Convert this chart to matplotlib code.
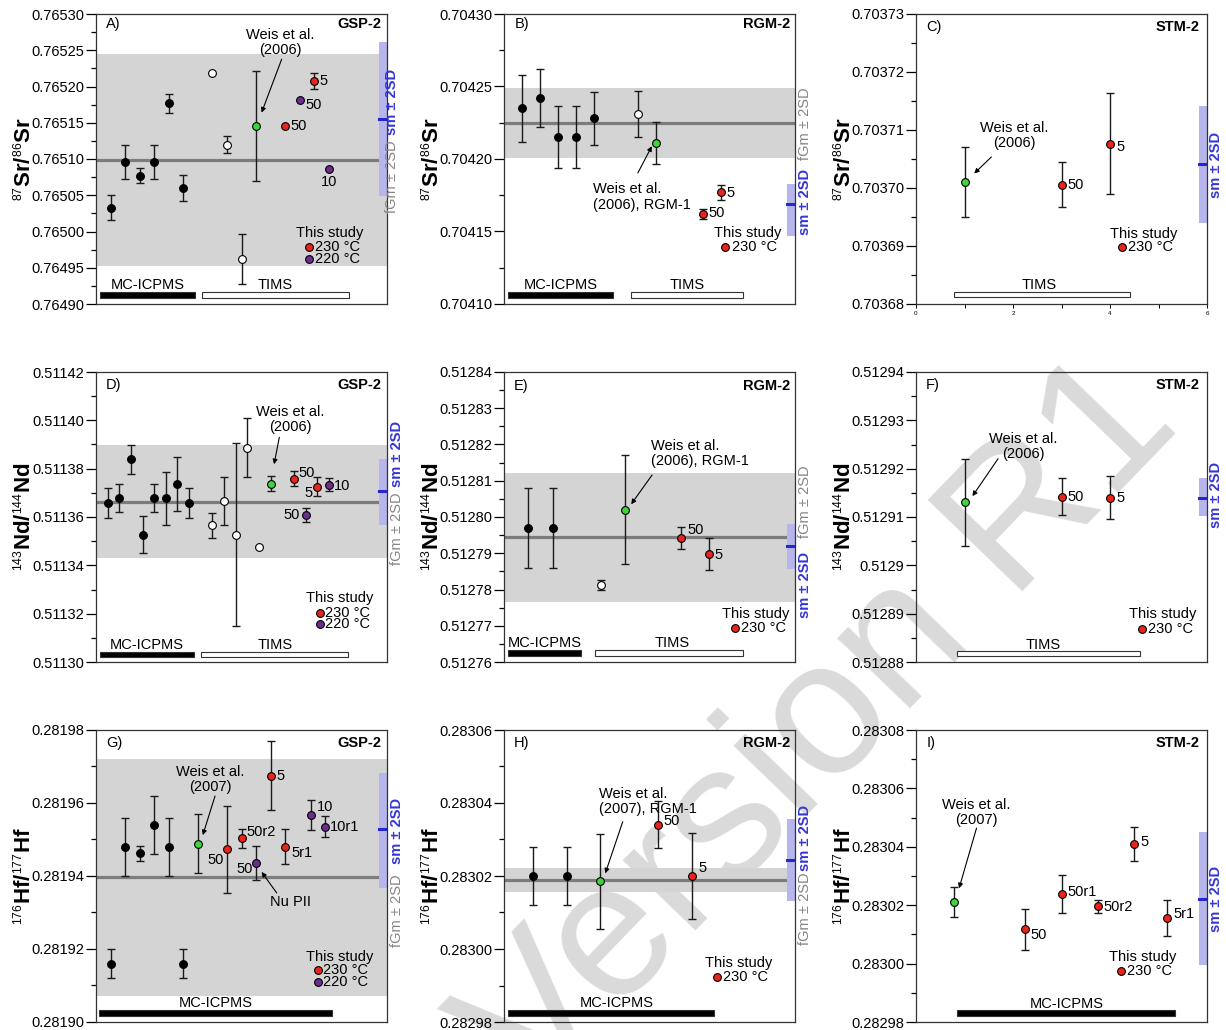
import numpy as np
import matplotlib
matplotlib.use('Agg')
import matplotlib.pyplot as plt
import matplotlib._mathtext as mathtext_mod
from matplotlib.patches import Rectangle
from matplotlib.ticker import MultipleLocator, AutoMinorLocator, FuncFormatter

plt.rcParams['font.family'] = ['Liberation Sans', 'DejaVu Sans']
plt.rcParams['mathtext.fontset'] = 'custom'
plt.rcParams['mathtext.rm'] = 'Liberation Sans'
plt.rcParams['mathtext.it'] = 'Liberation Sans:italic'
plt.rcParams['mathtext.bf'] = 'Liberation Sans:bold'
# smaller isotope superscripts in the axis labels
mathtext_mod.SHRINK_FACTOR = 0.55

# ---------------- data ----------------
# kind: mc = MC-ICPMS literature, tims = TIMS literature, weis = Weis et al.,
#       r230 = this study 230 C, p220 = this study 220 C
# fgm / sm = [mean, low, high]

# A) 87Sr/86Sr  GSP-2
a_x = [1, 2, 3, 4, 5, 6, 8, 9, 10, 11, 13, 14, 15, 16]
a_y = [0.765033, 0.765096, 0.765077, 0.765096, 0.765177, 0.765060,
       0.765218, 0.765120, 0.764962, 0.765145, 0.765145, 0.765182, 0.765207, 0.765086]
a_err = [0.0000175, 0.000024, 0.00001, 0.000024, 0.000013, 0.0000185,
         0.0, 0.000012, 0.0000345, 0.000076, 0.0, 0.0, 0.000011, 0.0]
a_kind = ['mc'] * 6 + ['tims'] * 3 + ['weis', 'r230', 'p220', 'r230', 'p220']
a_tag = [''] * 10 + ['50', '50', '5', '10']
a_fgm = [0.765098, 0.764953, 0.765245]
a_sm = [0.765155, 0.765049, 0.765261]

# B) 87Sr/86Sr  RGM-2
b_x = [1, 2, 3, 4, 5, 7.4, 8.4, 11, 12]
b_y = [0.704235, 0.704242, 0.704215, 0.704215, 0.704228, 0.704231, 0.704211, 0.704162, 0.704177]
b_err = [0.000023, 0.00002, 0.0000213, 0.0000213, 0.000018, 0.000016, 0.0000145, 0.0000037, 0.0000053]
b_kind = ['mc'] * 5 + ['tims', 'weis', 'r230', 'r230']
b_tag = [''] * 7 + ['50', '5']
b_fgm = [0.704225, 0.704201, 0.704249]
b_sm = [0.704169, 0.704147, 0.704183]

# C) 87Sr/86Sr  STM-2
c_x = [1, 3, 4]
c_y = [0.703701, 0.7037006, 0.7037076]
c_err = [0.000006, 0.0000039, 0.0000087]
c_kind = ['weis', 'r230', 'r230']
c_tag = ['', '50', '5']
c_sm = [0.7037041, 0.703694, 0.7037142]

# D) 143Nd/144Nd  GSP-2
d_x = [1, 2, 3, 4, 5, 6, 7, 8, 10, 11, 12, 13, 14, 15, 17, 18, 19, 20]
d_y = [0.5113657, 0.5113677, 0.5113839, 0.5113527, 0.5113677, 0.5113677, 0.5113737, 0.5113657,
       0.5113566, 0.5113666, 0.5113527, 0.5113887, 0.5113476,
       0.5113738, 0.5113759, 0.5113607, 0.5113726, 0.5113734]
d_err = [0.0000061, 0.0000058, 0.0000059, 0.0000078, 0.0000058, 0.000011, 0.0000112, 0.0000061,
         0.0000052, 0.00001, 0.000038, 0.0000122, 0.0,
         0.000003, 0.000003, 0.0000029, 0.0000041, 0.0000028]
d_kind = ['mc'] * 8 + ['tims'] * 5 + ['weis', 'r230', 'p220', 'r230', 'p220']
d_tag = [''] * 14 + ['50', '50', '5', '10']
d_fgm = [0.5113662, 0.5113432, 0.5113897]
d_sm = [0.5113706, 0.5113568, 0.5113841]

# E) 143Nd/144Nd  RGM-2
e_x = [1, 2, 4, 5, 7.3, 8.45]
e_y = [0.5127969, 0.5127969, 0.5127813, 0.5128020, 0.5127942, 0.5127898]
e_err = [0.000011, 0.000011, 0.0000013, 0.000015, 0.0000031, 0.0000044]
e_kind = ['mc', 'mc', 'tims', 'weis', 'r230', 'r230']
e_tag = ['', '', '', '', '50', '5']
e_fgm = [0.5127944, 0.5127766, 0.5128120]
e_sm = [0.5127919, 0.5127857, 0.5127980]

# F) 143Nd/144Nd  STM-2
f_x = [1, 3, 4]
f_y = [0.5129131, 0.5129142, 0.5129140]
f_err = [0.000009, 0.0000038, 0.0000044]
f_kind = ['weis', 'r230', 'r230']
f_tag = ['', '50', '5']
f_sm = [0.5129140, 0.5129102, 0.5129180]

# G) 176Hf/177Hf  GSP-2
g_x = [1, 2, 3, 4, 5, 6, 7, 9, 10, 11, 12, 13, 14.75, 15.75]
g_y = [0.2819160, 0.2819480, 0.2819462, 0.2819539, 0.2819480, 0.2819160,
       0.2819489, 0.2819473, 0.2819503, 0.2819436, 0.2819675, 0.2819480, 0.2819567, 0.2819535]
g_err = [0.0000039, 0.000008, 0.000002, 0.000008, 0.000008, 0.0000039,
         0.000008, 0.0000119, 0.0000027, 0.0000047, 0.0000095, 0.0000048, 0.0000041, 0.0000029]
g_kind = ['mc'] * 6 + ['weis', 'r230', 'r230', 'p220', 'r230', 'r230', 'p220', 'p220']
g_tag = [''] * 7 + ['50', '50r2', '50', '5', '5r1', '10', '10r1']
g_fgm = [0.2819398, 0.2819070, 0.2819720]
g_sm = [0.2819528, 0.2819368, 0.2819681]

# H) 176Hf/177Hf  RGM-2
h_x = [1.01, 2.17, 3.3, 5.28, 6.46]
h_y = [0.2830200, 0.2830200, 0.2830185, 0.2830341, 0.2830201]
h_err = [0.000008, 0.000008, 0.000013, 0.0000065, 0.0000118]
h_kind = ['mc', 'mc', 'weis', 'r230', 'r230']
h_tag = ['', '', '', '50', '5']
h_fgm = [0.2830189, 0.2830155, 0.2830223]
h_sm = [0.2830243, 0.2830131, 0.2830355]

# I) 176Hf/177Hf  STM-2
i_x = [1.05, 3, 4, 5, 6, 6.9]
i_y = [0.2830211, 0.2830117, 0.2830238, 0.2830197, 0.2830411, 0.2830157]
i_err = [0.000005, 0.000007, 0.0000066, 0.0000022, 0.0000058, 0.0000062]
i_kind = ['weis', 'r230', 'r230', 'r230', 'r230', 'r230']
i_tag = ['', '50', '50r1', '50r2', '5', '5r1']
i_sm = [0.2830222, 0.2829995, 0.2830449]

sr_label = r'$^{87}$Sr/$^{86}$Sr'
nd_label = r'$^{143}$Nd/$^{144}$Nd'
hf_label = r'$^{176}$Hf/$^{177}$Hf'

# ---------------- styles ----------------
FACE = {'mc': 'black', 'tims': 'white', 'weis': '#3dd43d', 'r230': '#e8251c', 'p220': '#6b2d8e'}
BAND = '#d4d4d4'
MEANLINE = '#7c7c7c'
SMBAND = '#b6b6ec'
SMMEAN = '#2727d0'
SMTEXT = '#3535d6'
FGMTEXT = '#858585'
FS = 10.5

# axes placement (pixels of a 1226 x 1030 figure)
W, H = 1226.0, 1030.0
col_left = [96, 504, 916]
col_w = 291
row_top = [14, 372, 730]
row_h = [290, 290, 292]


def draw_panel(ax, x, y, err, kind, tag, fgm, sm, lay):
    ax.set_facecolor('none')
    ax.set_xlim(lay['xlim'])
    ax.set_ylim(lay['ylim'])

    # grey fGm band and blue sm band
    if fgm is not None:
        ax.axhspan(fgm[1], fgm[2], color=BAND, lw=0, zorder=0)
        ax.axhline(fgm[0], color=MEANLINE, lw=2.3, zorder=1)
    ax.axhspan(sm[1], sm[2], xmin=0.972, xmax=1.0, color=SMBAND, lw=0, zorder=1.5)
    ax.axhline(sm[0], xmin=0.972, xmax=1.0, color=SMMEAN, lw=2.2, zorder=1.6)

    # points with error bars
    for xi, yi, ei, ki in zip(x, y, err, kind):
        if ei > 0:
            ax.errorbar(xi, yi, yerr=ei, fmt='none', ecolor='#1a1a1a', elinewidth=1.0,
                        capsize=2.6, capthick=1.0, zorder=3)
        ax.plot(xi, yi, 'o', mfc=FACE[ki], mec='black', mew=0.8, ms=5.6, zorder=4)

    # point tags
    offs = iter(lay['tags'])
    for xi, yi, t in zip(x, y, tag):
        if t:
            dx, dy, ha = next(offs)
            ax.annotate(t, (xi, yi), xytext=(dx, dy), textcoords='offset points',
                        ha=ha, va='center', fontsize=FS, zorder=5)

    # panel letter and sample name
    ax.text(lay['corner'][0], lay['corner'][1], lay['letter'], transform=ax.transAxes,
            ha='left', va='center', fontsize=FS)
    ax.text(lay['name_x'], lay['corner'][1], lay['name'], transform=ax.transAxes,
            ha='right', va='center', fontsize=FS, fontweight='bold')

    # literature annotations
    for txt, tx, ty, ha, start, tip in lay['notes']:
        ax.text(tx, ty, txt, transform=ax.transAxes, ha=ha, va='center',
                multialignment='center' if ha == 'center' else 'left',
                fontsize=FS, linespacing=1.1)
        ax.annotate('', xy=tip, xycoords='axes fraction', xytext=start,
                    textcoords='axes fraction',
                    arrowprops=dict(arrowstyle='-|>', lw=0.8, color='black',
                                    mutation_scale=7, shrinkA=0, shrinkB=0))

    # "This study" legend
    sx, sy = lay['study']
    ax.text(sx, sy, 'This study', transform=ax.transAxes, ha='center', va='center', fontsize=FS)
    for k, mx, my, lx, lab in lay['legend']:
        ax.plot(mx, my, 'o', transform=ax.transAxes, mfc=FACE[k], mec='black', mew=0.8,
                ms=5.6, clip_on=False, zorder=4)
        ax.text(lx, my, lab, transform=ax.transAxes, ha='left', va='center', fontsize=FS)

    # method bars
    for lab, x0, x1, yb, tx, ty, filled in lay['bars']:
        ax.add_patch(Rectangle((x0, yb - 0.009), x1 - x0, 0.018, transform=ax.transAxes,
                               facecolor='black' if filled else 'white',
                               edgecolor='#333333', lw=0.8, zorder=5))
        ax.text(tx, ty, lab, transform=ax.transAxes, ha='center', va='center', fontsize=FS)

    # vertical band labels on the right
    if lay.get('fgm_lab'):
        ax.text(lay['fgm_lab'][0], lay['fgm_lab'][1], 'fGm \u00b1 2SD', transform=ax.transAxes,
                rotation=90, ha='center', va='center', fontsize=FS, color=FGMTEXT, clip_on=False)
    ax.text(lay['sm_lab'][0], lay['sm_lab'][1], 'sm \u00b1 2SD', transform=ax.transAxes,
            rotation=90, ha='center', va='center', fontsize=FS, color=SMTEXT,
            fontweight='bold', clip_on=False)

    # axes cosmetics
    ax.yaxis.set_major_locator(MultipleLocator(lay['step']))
    ax.yaxis.set_minor_locator(AutoMinorLocator(2))
    fmt = lay.get('fmt', '{:.5f}')
    ax.yaxis.set_major_formatter(FuncFormatter(lambda v, p: fmt.format(v)))
    ax.tick_params(axis='y', which='major', length=7, width=0.9, labelsize=FS, pad=1.5)
    ax.tick_params(axis='y', which='minor', length=3.5, width=0.9)
    if lay.get('xticks'):
        ax.xaxis.set_major_locator(MultipleLocator(2))
        ax.xaxis.set_minor_locator(MultipleLocator(1))
        ax.tick_params(axis='x', which='both', length=3, width=0.7, labelsize=4.5, pad=2)
    else:
        ax.tick_params(axis='x', which='both', bottom=False, labelbottom=False)
    for s in ax.spines.values():
        s.set_linewidth(0.9)
        s.set_color('#333333')
    ax.set_ylabel(lay['ylabel'], fontsize=16, fontweight='bold')
    ax.yaxis.set_label_coords(-0.205, 0.5)


LAYOUT = {
    'A': dict(xlim=(0, 20), ylim=(0.76490, 0.76530), step=0.00005, ylabel=sr_label,
              letter='A)', name='GSP-2', corner=(0.034, 0.965), name_x=0.979,
              tags=[(3.6, 0, 'left'), (4, -3.6, 'left'), (4, 0, 'left'), (0, -9, 'center')],
              notes=[('Weis et al.\n(2006)', 0.632, 0.902, 'center', (0.638, 0.844), (0.569, 0.660))],
              study=(0.804, 0.244),
              legend=[('r230', 0.733, 0.196, 0.753, '230 \u00b0C'), ('p220', 0.733, 0.154, 0.753, '220 \u00b0C')],
              bars=[('MC-ICPMS', 0.014, 0.340, 0.031, 0.178, 0.064, True),
                    ('TIMS', 0.363, 0.871, 0.031, 0.617, 0.064, False)],
              fgm_lab=(1.017, 0.438), sm_lab=(1.017, 0.697)),
    'B': dict(xlim=(0, 16.1), ylim=(0.70410, 0.70430), step=0.00005, ylabel=sr_label,
              letter='B)', name='RGM-2', corner=(0.038, 0.965), name_x=0.985,
              tags=[(4.3, 0.7, 'left'), (4.3, -0.7, 'left')],
              notes=[('Weis et al.\n(2006), RGM-1', 0.306, 0.369, 'left', (0.460, 0.452), (0.508, 0.544))],
              study=(0.837, 0.244),
              legend=[('r230', 0.761, 0.197, 0.785, '230 \u00b0C')],
              bars=[('MC-ICPMS', 0.015, 0.374, 0.031, 0.194, 0.064, True),
                    ('TIMS', 0.437, 0.823, 0.031, 0.630, 0.064, False)],
              fgm_lab=(1.034, 0.621), sm_lab=(1.034, 0.352)),
    'C': dict(xlim=(0, 6), ylim=(0.70368, 0.70373), step=0.00001, ylabel=sr_label,
              letter='C)', name='STM-2', corner=(0.034, 0.956), name_x=0.974,
              tags=[(4.3, 0, 'left'), (4.3, -2, 'left')],
              notes=[('Weis et al.\n(2006)', 0.339, 0.581, 'center', (0.259, 0.507), (0.200, 0.450))],
              study=(0.782, 0.243),
              legend=[('r230', 0.709, 0.195, 0.730, '230 \u00b0C')],
              bars=[('TIMS', 0.131, 0.734, 0.034, 0.422, 0.064, False)],
              fgm_lab=None, sm_lab=(1.031, 0.478), xticks=True),
    'D': dict(xlim=(0, 25), ylim=(0.51130, 0.51142), step=0.00002, ylabel=nd_label,
              letter='D)', name='GSP-2', corner=(0.034, 0.954), name_x=0.979,
              tags=[(3, 4.3, 'left'), (-4.3, 0, 'right'), (-3.4, -5, 'right'), (3.4, -0.7, 'left')],
              notes=[('Weis et al.\n(2006)', 0.667, 0.836, 'center', (0.630, 0.775), (0.612, 0.682))],
              study=(0.838, 0.222),
              legend=[('r230', 0.770, 0.170, 0.787, '230 \u00b0C'), ('p220', 0.770, 0.132, 0.787, '220 \u00b0C')],
              bars=[('MC-ICPMS', 0.014, 0.337, 0.025, 0.175, 0.060, True),
                    ('TIMS', 0.361, 0.867, 0.025, 0.615, 0.060, False)],
              fgm_lab=(1.034, 0.460), sm_lab=(1.034, 0.718)),
    'E': dict(xlim=(0, 12), ylim=(0.51276, 0.51284), step=0.00001, ylabel=nd_label,
              letter='E)', name='RGM-2', corner=(0.032, 0.952), name_x=0.985,
              tags=[(4.3, 5.8, 'left'), (4.3, -0.7, 'left')],
              notes=[('Weis et al.\n(2006), RGM-1', 0.506, 0.719, 'left', (0.509, 0.645), (0.437, 0.544))],
              study=(0.866, 0.166),
              legend=[('r230', 0.793, 0.118, 0.814, '230 \u00b0C')],
              bars=[('MC-ICPMS', 0.015, 0.266, 0.031, 0.140, 0.064, True),
                    ('TIMS', 0.314, 0.820, 0.031, 0.578, 0.064, False)],
              fgm_lab=(1.034, 0.553), sm_lab=(1.034, 0.265)),
    'F': dict(xlim=(0, 6), ylim=(0.51288, 0.51294), step=0.00001, ylabel=nd_label, fmt='{:g}',
              letter='F)', name='STM-2', corner=(0.034, 0.954), name_x=0.974,
              tags=[(4.3, 0, 'left'), (4.3, 0, 'left')],
              notes=[('Weis et al.\n(2006)', 0.370, 0.744, 'center', (0.282, 0.701), (0.194, 0.572))],
              study=(0.849, 0.164),
              legend=[('r230', 0.778, 0.113, 0.797, '230 \u00b0C')],
              bars=[('TIMS', 0.142, 0.771, 0.029, 0.436, 0.060, False)],
              fgm_lab=None, sm_lab=(1.031, 0.577)),
    'G': dict(xlim=(0, 20), ylim=(0.28190, 0.28198), step=0.00002, ylabel=hf_label,
              letter='G)', name='GSP-2', corner=(0.034, 0.954), name_x=0.979,
              tags=[(-2.2, -8, 'right'), (3.6, 4.3, 'left'), (-2.2, -4.3, 'right'), (4.3, 0, 'left'),
                    (4.3, -4.3, 'left'), (4.3, 5.8, 'left'), (3.6, 0, 'left')],
              notes=[('Weis et al.\n(2007)', 0.392, 0.829, 'center', (0.409, 0.774), (0.367, 0.640)),
                     ('Nu PII', 0.667, 0.411, 'center', (0.621, 0.442), (0.569, 0.514))],
              study=(0.838, 0.223),
              legend=[('r230', 0.764, 0.178, 0.781, '230 \u00b0C'), ('p220', 0.764, 0.138, 0.781, '220 \u00b0C')],
              bars=[('MC-ICPMS', 0.011, 0.812, 0.031, 0.412, 0.064, True)],
              fgm_lab=(1.034, 0.381), sm_lab=(1.034, 0.655)),
    'H': dict(xlim=(0, 10), ylim=(0.28298, 0.28306), step=0.00002, ylabel=hf_label,
              letter='H)', name='RGM-2', corner=(0.032, 0.954), name_x=0.985,
              tags=[(4.3, 2.2, 'left'), (5, 5.8, 'left')],
              notes=[('Weis et al.\n(2007), RGM-1', 0.328, 0.754, 'left', (0.408, 0.686), (0.348, 0.509))],
              study=(0.808, 0.203),
              legend=[('r230', 0.733, 0.155, 0.753, '230 \u00b0C')],
              bars=[('MC-ICPMS', 0.015, 0.722, 0.031, 0.389, 0.064, True)],
              fgm_lab=(1.034, 0.387), sm_lab=(1.034, 0.632)),
    'I': dict(xlim=(0, 8), ylim=(0.28298, 0.28308), step=0.00002, ylabel=hf_label,
              letter='I)', name='STM-2', corner=(0.038, 0.954), name_x=0.974,
              tags=[(3.6, -4.3, 'left'), (4.3, 1.4, 'left'), (4.3, -0.7, 'left'),
                    (4.3, 1.4, 'left'), (4.3, 2.9, 'left')],
              notes=[('Weis et al.\n(2007)', 0.207, 0.716, 'center', (0.208, 0.664), (0.148, 0.458))],
              study=(0.780, 0.223),
              legend=[('r230', 0.704, 0.175, 0.726, '230 \u00b0C')],
              bars=[('MC-ICPMS', 0.142, 0.891, 0.031, 0.518, 0.062, True)],
              fgm_lab=None, sm_lab=(1.031, 0.423)),
}

panels = [
    ('A', a_x, a_y, a_err, a_kind, a_tag, a_fgm, a_sm),
    ('B', b_x, b_y, b_err, b_kind, b_tag, b_fgm, b_sm),
    ('C', c_x, c_y, c_err, c_kind, c_tag, None, c_sm),
    ('D', d_x, d_y, d_err, d_kind, d_tag, d_fgm, d_sm),
    ('E', e_x, e_y, e_err, e_kind, e_tag, e_fgm, e_sm),
    ('F', f_x, f_y, f_err, f_kind, f_tag, None, f_sm),
    ('G', g_x, g_y, g_err, g_kind, g_tag, g_fgm, g_sm),
    ('H', h_x, h_y, h_err, h_kind, h_tag, h_fgm, h_sm),
    ('I', i_x, i_y, i_err, i_kind, i_tag, None, i_sm),
]

fig = plt.figure(figsize=(W / 100, H / 100), dpi=100)
for n, (key, x, y, err, kind, tag, fgm, sm) in enumerate(panels):
    r, c = divmod(n, 3)
    rect = [col_left[c] / W, 1 - (row_top[r] + row_h[r]) / H, col_w / W, row_h[r] / H]
    ax = fig.add_axes(rect)
    draw_panel(ax, x, y, err, kind, tag, fgm, sm, LAYOUT[key])

# watermark of the accepted manuscript, drawn behind the (transparent) axes
fig.text(0.670, 0.292, 'Version R1', fontsize=138, rotation=46, color='#dadada',
         ha='center', va='center', zorder=-5)

fig.savefig('out.png', dpi=100)
